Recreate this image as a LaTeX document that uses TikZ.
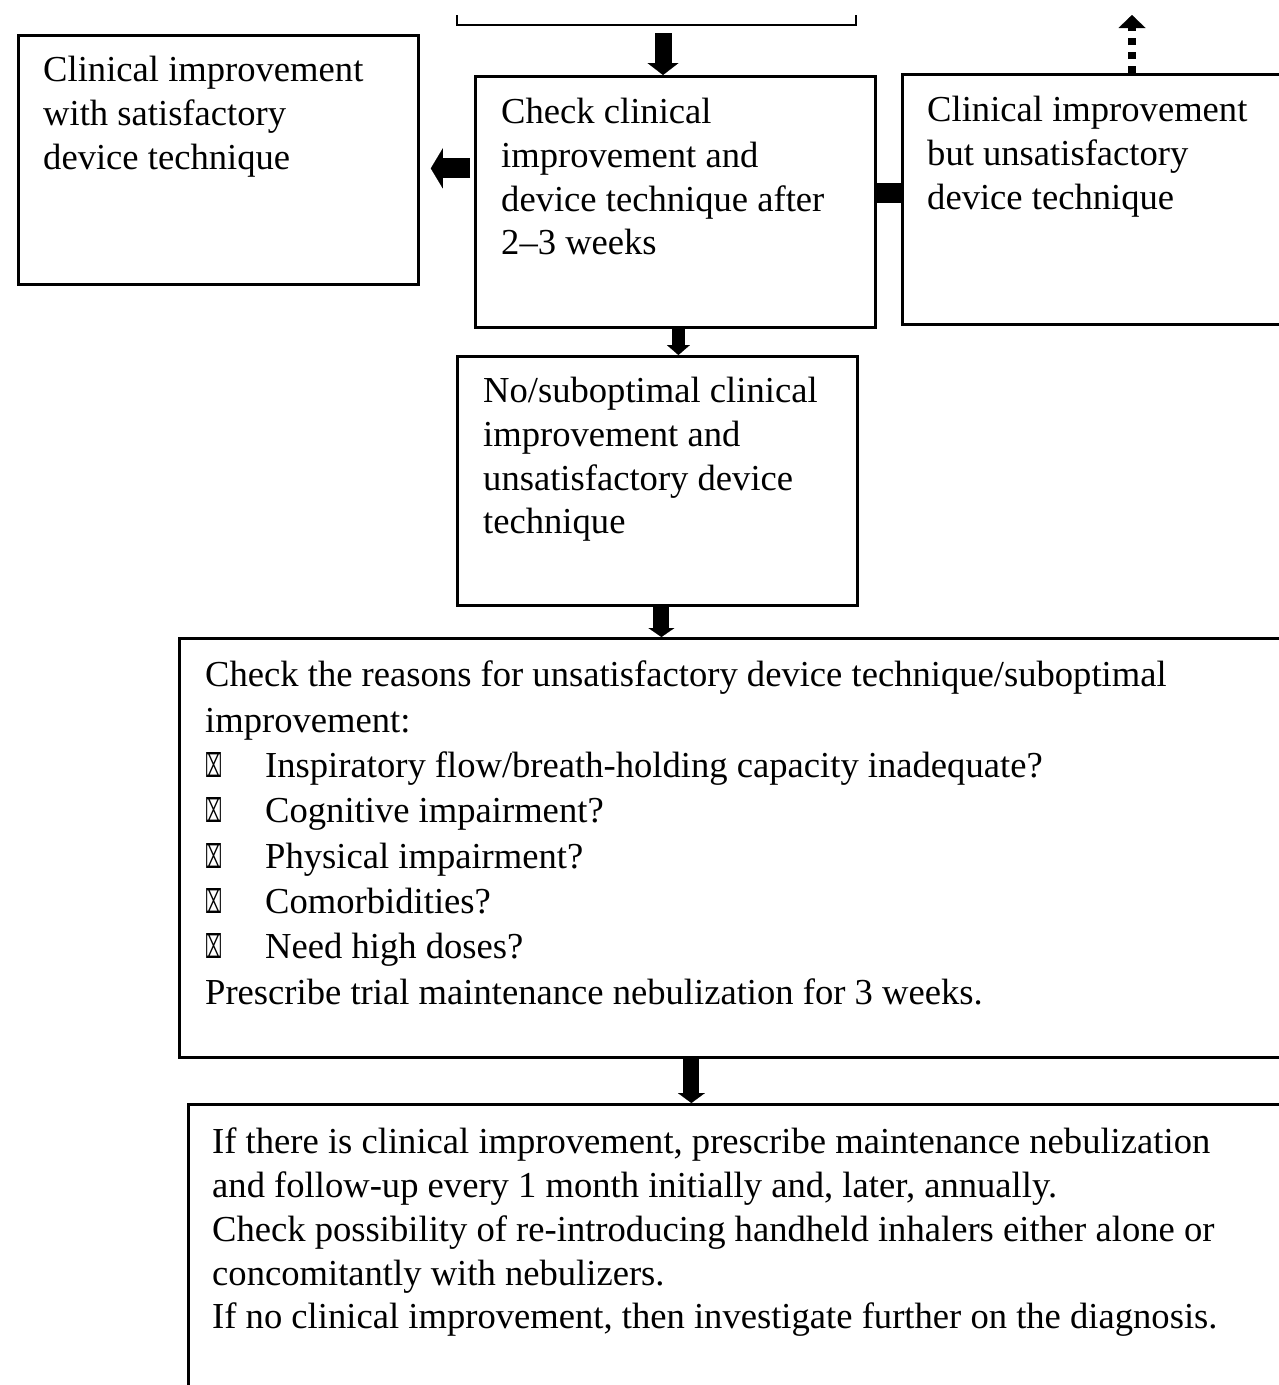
\documentclass[tikz,border=0pt]{standalone}
\usepackage{fontspec}
\usepackage{graphicx}
\setmainfont{Liberation Serif}
\newfontfamily\symfont{DejaVu Sans}
\usetikzlibrary{arrows.meta}

\tikzset{
  box/.style={draw, line width=2.8pt, inner sep=0pt, anchor=north west},
  label/.style={anchor=north west, inner sep=0pt, align=left,
    font=\fontsize{36.6}{43.7}\selectfont},
  blockarrow/.style n args={3}{line width=#1,
    -{Triangle[width=#2, length=#3, line width=0.1pt]}},
}
\newcommand{\chk}{\makebox[60pt][l]{\resizebox{17pt}{25pt}{\symfont ⌧}}}

\begin{document}
\begin{tikzpicture}[x=1pt, y=-1pt]
\useasboundingbox (0,0) rectangle (1279,1385);

% bottom edge of the preceding step
\draw[line width=2.8pt] (457,15) |- (856,25) -- (856,15);
\coordinate (prevbottom) at (663,33);
\coordinate (nexttop) at (1132,15);

% boxes
\node[box, minimum width=400pt, minimum height=249pt] (left) at (17,34) {};
\node[box, minimum width=400pt, minimum height=251pt] (main) at (474,75) {};
\node[box, minimum width=500pt, minimum height=250pt] (right) at (901,73) {};
\node[box, minimum width=400pt, minimum height=249pt] (nosub) at (456,355) {};
\node[box, minimum width=1200pt, minimum height=419pt] (reasons) at (178,637) {};
\node[box, minimum width=1200pt, minimum height=400pt] (final) at (187,1103) {};

% box texts
\node[label] at ([xshift=26pt, yshift=-22pt]left.north west)
  {Clinical improvement\\with satisfactory\\device technique};
\node[label] at ([xshift=27pt, yshift=-23pt]main.north west)
  {Check clinical\\improvement and\\device technique after\\2–3 weeks};
\node[label] at ([xshift=26pt, yshift=-23pt]right.north west)
  {Clinical improvement\\but unsatisfactory\\device technique};
\node[label] at ([xshift=27pt, yshift=-22pt]nosub.north west)
  {No/suboptimal clinical\\improvement and\\unsatisfactory device\\technique};
\node[label, font=\fontsize{36.6}{45.3}\selectfont] at ([xshift=27pt, yshift=-24pt]reasons.north west)
  {Check the reasons for unsatisfactory device technique/suboptimal\\
   improvement:\\
   \chk Inspiratory flow/breath-holding capacity inadequate?\\
   \chk Cognitive impairment?\\
   \chk Physical impairment?\\
   \chk Comorbidities?\\
   \chk Need high doses?\\
   Prescribe trial maintenance nebulization for 3 weeks.};
\node[label] at ([xshift=25pt, yshift=-25pt]final.north west)
  {If there is clinical improvement, prescribe maintenance nebulization\\
   and follow-up every 1 month initially and, later, annually.\\
   Check possibility of re-introducing handheld inhalers either alone or\\
   concomitantly with nebulizers.\\
   If no clinical improvement, then investigate further on the diagnosis.};

% connectors
\draw[blockarrow={17pt}{31pt}{12pt}] (prevbottom) -- (prevbottom |- main.north);
\draw[blockarrow={20pt}{40pt}{12pt}, shorten <=4pt, shorten >=11pt]
  ([yshift=33.5pt]main.west) -- ([yshift=33.5pt]main.west -| left.east);
\draw[line width=20pt]
  ([yshift=8.5pt]main.east) -- ([yshift=8.5pt]main.east -| right.west);
\draw[line width=8pt, dash pattern=on 7pt off 7pt,
  -{Triangle[width=27pt, length=13pt, line width=0.1pt]}]
  (nexttop |- right.north) -- (nexttop);
\draw[blockarrow={13pt}{23pt}{10pt}]
  ([xshift=3pt]main.south) -- ([xshift=3pt]main.south |- nosub.north);
\draw[blockarrow={16pt}{26pt}{9pt}]
  ([xshift=4pt]nosub.south) -- ([xshift=4pt]nosub.south |- reasons.north);
\draw[blockarrow={16pt}{27pt}{10pt}]
  ([xshift=-88pt]reasons.south) -- ([xshift=-88pt]reasons.south |- final.north);
\end{tikzpicture}
\end{document}
